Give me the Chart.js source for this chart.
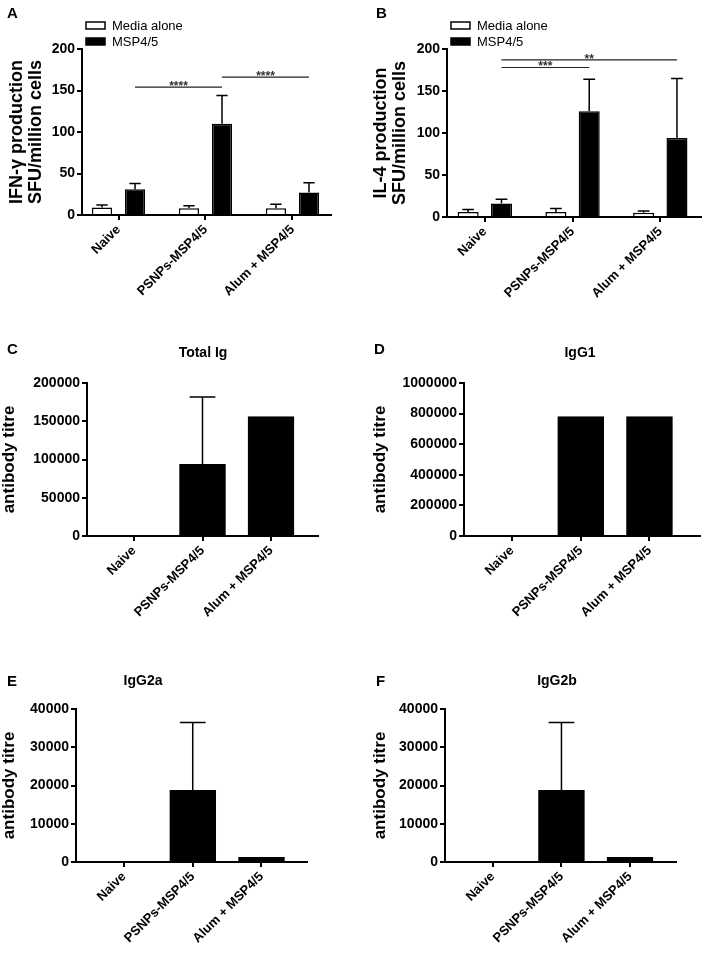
<!DOCTYPE html>
<html>
<head>
  <title>MSP4/5 immune responses</title>
  <script src="https://cdn.jsdelivr.net/npm/chart.js"></script>
  <style>
    body {
      margin: 0;
      background: #fff;
    }

    #figure {
      position: relative;
      width: 702px;
      height: 957px;
      font-family: "Liberation Sans", Arial, sans-serif;
      color: #000;
    }

    #figure canvas {
      position: absolute;
    }

    .letter {
      position: absolute;
      font-weight: bold;
      font-size: 15px;
      line-height: 15px;
    }

    .ptitle {
      position: absolute;
      font-weight: bold;
      font-size: 14px;
      line-height: 14px;
      white-space: nowrap;
      transform: translateX(-50%);
    }
  </style>
</head>
<body>
  <div id="figure">
    <canvas id="chartA" width="351" height="330" style="left:0;top:0"></canvas>
    <canvas id="chartB" width="351" height="330" style="left:351px;top:0"></canvas>
    <canvas id="chartC" width="351" height="340" style="left:0;top:330px"></canvas>
    <canvas id="chartD" width="351" height="340" style="left:351px;top:330px"></canvas>
    <canvas id="chartE" width="351" height="287" style="left:0;top:670px"></canvas>
    <canvas id="chartF" width="351" height="287" style="left:351px;top:670px"></canvas>

    <div class="letter" style="left:7px;top:5px">A</div>
    <div class="letter" style="left:376px;top:5px">B</div>
    <div class="letter" style="left:7px;top:341px">C</div>
    <div class="letter" style="left:374px;top:341px">D</div>
    <div class="letter" style="left:7px;top:673px">E</div>
    <div class="letter" style="left:376px;top:673px">F</div>

    <div class="ptitle" style="left:203px;top:345px">Total Ig</div>
    <div class="ptitle" style="left:580px;top:345px">IgG1</div>
    <div class="ptitle" style="left:143px;top:673px">IgG2a</div>
    <div class="ptitle" style="left:557px;top:673px">IgG2b</div>
  </div>

  <script>
    // groups on the x axis
    const groups = ['Naive', 'PSNPs-MSP4/5', 'Alum + MSP4/5'];
    const groupPositions = [0, 1, 2];

    // A: IFN-gamma ELISpot (SFU/million cells), mean and SD
    const ifnMedia = [9, 8, 8];
    const ifnMediaSd = [3, 3, 5];
    const ifnMsp = [31, 110, 27];
    const ifnMspSd = [7, 34, 12];
    const ifnSig = [
      { from: 0, to: 1, level: 154, label: '****' },
      { from: 1, to: 2, level: 166, label: '****' }
    ];

    // B: IL-4 ELISpot (SFU/million cells)
    const ilMedia = [6, 6, 5];
    const ilMediaSd = [3, 4, 2];
    const ilMsp = [16, 126, 94];
    const ilMspSd = [5, 38, 71];
    const ilSig = [
      { from: 0, to: 1, level: 178, label: '***' },
      { from: 0, to: 2, level: 187, label: '**' }
    ];

    // C-F: antibody titres
    const totalIg = [0, 93750, 156250];
    const totalIgSd = [0, 88000, 0];
    const igG1 = [0, 781250, 781250];
    const igG1Sd = [0, 0, 0];
    const igG2a = [0, 18750, 1250];
    const igG2aSd = [0, 17700, 0];
    const igG2b = [0, 18750, 1250];
    const igG2bSd = [0, 17700, 0];

    const FONT = '"Liberation Sans", Arial, sans-serif';
    Chart.defaults.font.family = FONT;
    Chart.defaults.color = '#000';

    function errorBarPlugin() {
      return {
        id: 'errorBars',
        afterDatasetsDraw(chart) {
          const ctx = chart.ctx;
          const yScale = chart.scales.y;
          chart.data.datasets.forEach((ds, di) => {
            const meta = chart.getDatasetMeta(di);
            meta.data.forEach((bar, i) => {
              const err = ds.errors[i];
              if (!err) return;
              const top = yScale.getPixelForValue(ds.data[i].y + err);
              const half = bar.width * 0.56 / 2;
              ctx.save();
              ctx.strokeStyle = '#000';
              ctx.lineWidth = 1.5;
              ctx.beginPath();
              ctx.moveTo(bar.x, bar.y);
              ctx.lineTo(bar.x, top);
              ctx.moveTo(bar.x - half, top);
              ctx.lineTo(bar.x + half, top);
              ctx.stroke();
              ctx.restore();
            });
          });
        }
      };
    }

    function sigPlugin(items) {
      return {
        id: 'sigLines',
        afterDatasetsDraw(chart) {
          const ctx = chart.ctx;
          const meta = chart.getDatasetMeta(1);
          items.forEach(item => {
            const x1 = meta.data[item.from].x;
            const x2 = meta.data[item.to].x;
            const y = chart.scales.y.getPixelForValue(item.level);
            ctx.save();
            ctx.strokeStyle = '#222';
            ctx.lineWidth = 1.2;
            ctx.beginPath();
            ctx.moveTo(x1, y);
            ctx.lineTo(x2, y);
            ctx.stroke();
            ctx.fillStyle = '#333';
            ctx.font = 'bold 12px ' + FONT;
            ctx.textAlign = 'center';
            ctx.textBaseline = 'alphabetic';
            ctx.fillText(item.label, (x1 + x2) / 2, y + 3);
            ctx.restore();
          });
        }
      };
    }

    function legendPlugin() {
      return {
        id: 'boxLegend',
        afterDraw(chart) {
          const ctx = chart.ctx;
          const area = chart.chartArea;
          chart.data.datasets.forEach((ds, i) => {
            const x = area.left + 4;
            const y = area.top - 27 + i * 16;
            ctx.save();
            ctx.fillStyle = ds.backgroundColor;
            ctx.fillRect(x, y, 19, 7);
            ctx.strokeStyle = '#000';
            ctx.lineWidth = 1.5;
            ctx.strokeRect(x, y, 19, 7);
            ctx.fillStyle = '#000';
            ctx.font = '13px ' + FONT;
            ctx.textBaseline = 'middle';
            ctx.fillText(ds.label, x + 26, y + 4);
            ctx.restore();
          });
        }
      };
    }

    function makePanel(canvasId, p) {
      const datasets = p.series.map(s => ({
        label: s.label,
        data: groupPositions.map((x, i) => ({ x: x, y: s.values[i] })),
        errors: s.errors,
        backgroundColor: s.fill,
        borderColor: '#000',
        borderWidth: 1.5,
        categoryPercentage: p.categoryPercentage,
        barPercentage: p.barPercentage,
        barThickness: p.barThickness
      }));

      const plugins = [errorBarPlugin()];
      if (p.sig) plugins.push(sigPlugin(p.sig));
      if (p.legend) plugins.push(legendPlugin());

      return new Chart(document.getElementById(canvasId), {
        type: 'bar',
        data: { datasets: datasets },
        plugins: plugins,
        options: {
          responsive: false,
          animation: false,
          layout: { padding: p.padding },
          plugins: {
            legend: { display: false },
            tooltip: { enabled: false }
          },
          scales: {
            x: {
              type: 'linear',
              min: p.xMin,
              max: p.xMax,
              bounds: 'data',
              offset: false,
              afterBuildTicks: s => { s.ticks = groupPositions.map(v => ({ value: v })); },
              afterFit: s => { s.height = p.xAxisHeight; },
              grid: {
                display: true,
                offset: false,
                drawOnChartArea: false,
                drawTicks: true,
                tickLength: 5,
                tickWidth: 2,
                lineWidth: 2,
                color: '#000'
              },
              border: { display: true, color: '#000', width: 2 },
              ticks: {
                autoSkip: false,
                minRotation: 45,
                maxRotation: 45,
                padding: 2,
                color: '#000',
                font: { size: 13, weight: 'bold' },
                callback: v => groups[v]
              }
            },
            y: {
              min: 0,
              max: p.yMax,
              afterFit: s => { s.width = p.yAxisWidth; },
              grid: {
                drawOnChartArea: false,
                drawTicks: true,
                tickLength: 5,
                tickWidth: 2,
                lineWidth: 2,
                color: '#000'
              },
              border: { display: true, color: '#000', width: 2 },
              ticks: {
                stepSize: p.yStep,
                padding: 2,
                color: '#000',
                font: { size: 14, weight: 'bold' },
                callback: v => String(v)
              },
              title: {
                display: true,
                text: p.yTitle,
                color: '#000',
                padding: 0,
                font: { size: p.yTitleSize, weight: 'bold', lineHeight: 1.07 }
              }
            }
          }
        }
      });
    }

    document.addEventListener('DOMContentLoaded', function() {
      makePanel('chartA', {
        series: [
          { label: 'Media alone', values: ifnMedia, errors: ifnMediaSd, fill: '#fff' },
          { label: 'MSP4/5', values: ifnMsp, errors: ifnMspSd, fill: '#000' }
        ],
        sig: ifnSig,
        legend: true,
        categoryPercentage: 0.76,
        barPercentage: 0.61,
        padding: { left: 7, right: 20, top: 49, bottom: 0 },
        yAxisWidth: 75,
        xAxisHeight: 115,
        xMin: -0.42,
        xMax: 2.443,
        yMax: 200,
        yStep: 50,
        yTitle: ['IFN-\u03b3 production', 'SFU/million cells'],
        yTitleSize: 18
      });

      makePanel('chartB', {
        series: [
          { label: 'Media alone', values: ilMedia, errors: ilMediaSd, fill: '#fff' },
          { label: 'MSP4/5', values: ilMsp, errors: ilMspSd, fill: '#000' }
        ],
        sig: ilSig,
        legend: true,
        categoryPercentage: 0.76,
        barPercentage: 0.63,
        padding: { left: 20, right: 1, top: 49, bottom: 0 },
        yAxisWidth: 76,
        xAxisHeight: 113,
        xMin: -0.431,
        xMax: 2.464,
        yMax: 200,
        yStep: 50,
        yTitle: ['IL-4 production', 'SFU/million cells'],
        yTitleSize: 18
      });

      makePanel('chartC', {
        series: [{ label: 'Total Ig', values: totalIg, errors: totalIgSd, fill: '#000' }],
        barThickness: 46,
        padding: { left: 0, right: 33, top: 53, bottom: 0 },
        yAxisWidth: 87,
        xAxisHeight: 134,
        xMin: -0.686,
        xMax: 2.686,
        yMax: 200000,
        yStep: 50000,
        yTitle: 'antibody titre',
        yTitleSize: 17
      });

      makePanel('chartD', {
        series: [{ label: 'IgG1', values: igG1, errors: igG1Sd, fill: '#000' }],
        barThickness: 46,
        padding: { left: 20, right: 2, top: 53, bottom: 0 },
        yAxisWidth: 93,
        xAxisHeight: 134,
        xMin: -0.698,
        xMax: 2.735,
        yMax: 1000000,
        yStep: 200000,
        yTitle: 'antibody titre',
        yTitleSize: 17
      });

      makePanel('chartE', {
        series: [{ label: 'IgG2a', values: igG2a, errors: igG2aSd, fill: '#000' }],
        barThickness: 46,
        padding: { left: 0, right: 44, top: 39, bottom: 0 },
        yAxisWidth: 76,
        xAxisHeight: 95,
        xMin: -0.698,
        xMax: 2.662,
        yMax: 40000,
        yStep: 10000,
        yTitle: 'antibody titre',
        yTitleSize: 17
      });

      makePanel('chartF', {
        series: [{ label: 'IgG2b', values: igG2b, errors: igG2bSd, fill: '#000' }],
        barThickness: 46,
        padding: { left: 20, right: 26, top: 39, bottom: 0 },
        yAxisWidth: 74,
        xAxisHeight: 95,
        xMin: -0.70,
        xMax: 2.672,
        yMax: 40000,
        yStep: 10000,
        yTitle: 'antibody titre',
        yTitleSize: 17
      });
    });
  </script>
</body>
</html>
